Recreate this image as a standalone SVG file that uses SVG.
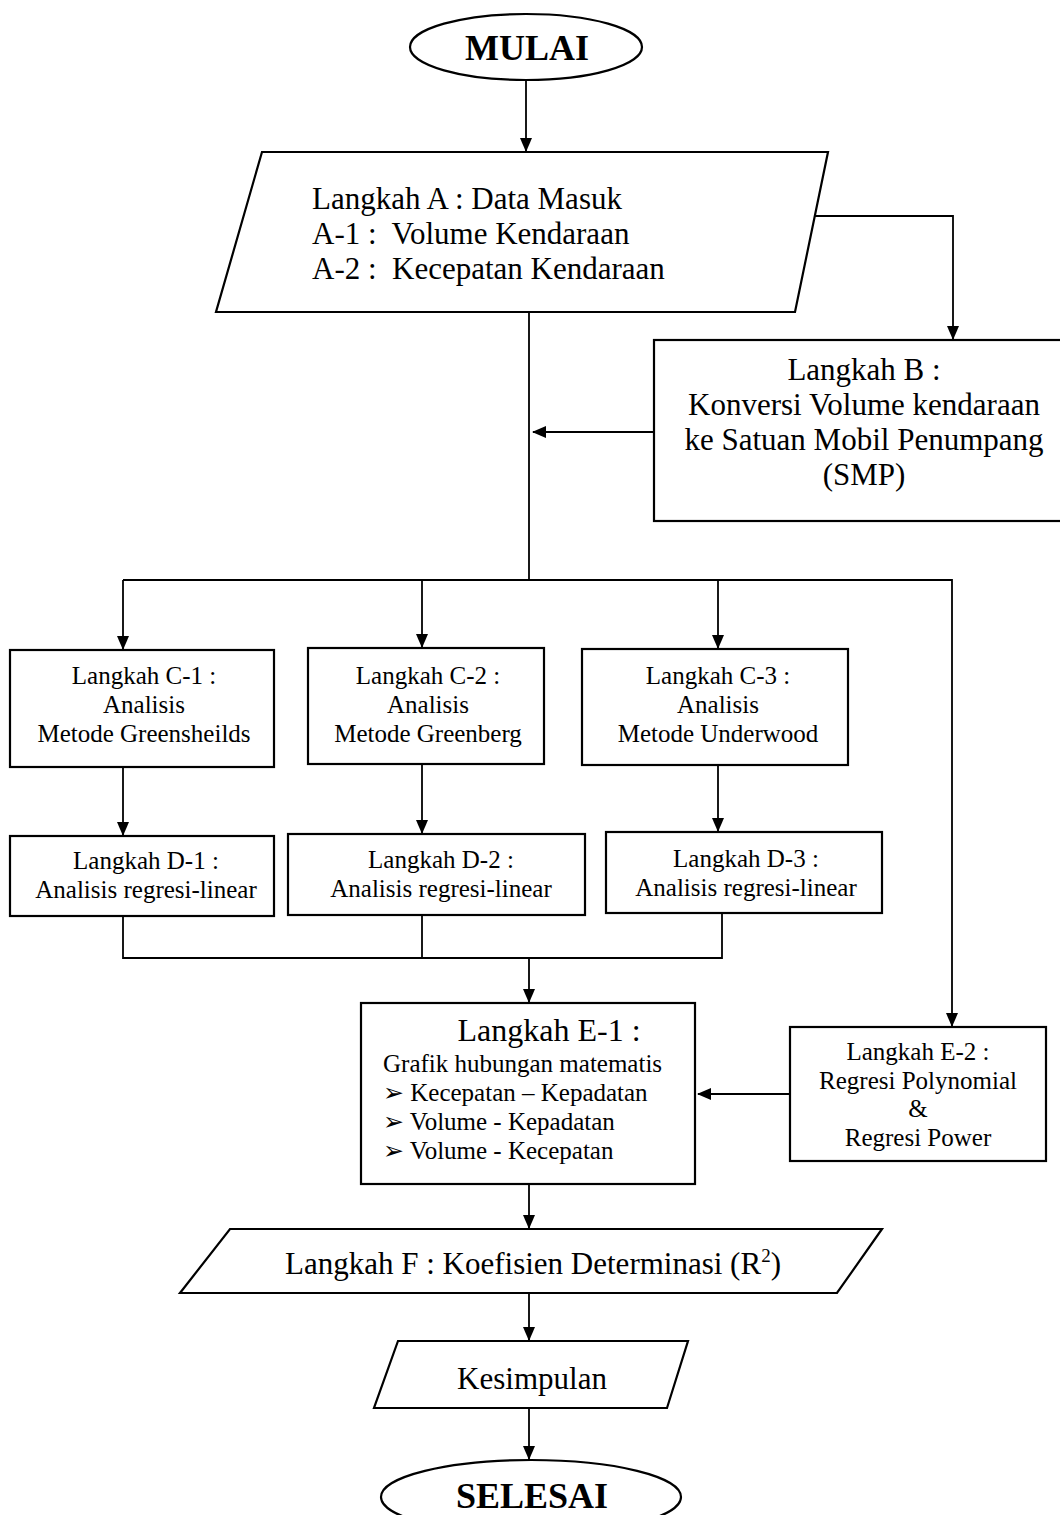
<svg xmlns="http://www.w3.org/2000/svg" width="1060" height="1515" viewBox="0 0 1060 1515">
<style>
.sh{fill:#fff;stroke:#000;stroke-width:2.2}
.cn{fill:none;stroke:#000;stroke-width:1.8}
text{font-family:"Liberation Serif","Times New Roman",serif;fill:#000}
.l{font-size:31px}
.m{font-size:25px}
.b{font-size:36px;font-weight:bold}
.c{text-anchor:middle}
</style>
<defs>
<marker id="ah" markerWidth="14" markerHeight="12" refX="13" refY="6" orient="auto" markerUnits="userSpaceOnUse">
<path d="M0,0 L14,6 L0,12 Z" fill="#000"/>
</marker>
</defs>
<rect width="1060" height="1515" fill="#fff"/>
<g id="connectors">
<line class="cn" x1="526" y1="80" x2="526" y2="151" marker-end="url(#ah)"/>
<polyline class="cn" points="815,216 953,216 953,339" marker-end="url(#ah)"/>
<line class="cn" x1="529" y1="312" x2="529" y2="580"/>
<line class="cn" x1="654" y1="432" x2="533" y2="432" marker-end="url(#ah)"/>
<polyline class="cn" points="123,580 952,580 952,1026" marker-end="url(#ah)"/>
<line class="cn" x1="123" y1="580" x2="123" y2="649" marker-end="url(#ah)"/>
<line class="cn" x1="422" y1="580" x2="422" y2="647" marker-end="url(#ah)"/>
<line class="cn" x1="718" y1="580" x2="718" y2="648" marker-end="url(#ah)"/>
<line class="cn" x1="123" y1="767" x2="123" y2="835" marker-end="url(#ah)"/>
<line class="cn" x1="422" y1="764" x2="422" y2="833" marker-end="url(#ah)"/>
<line class="cn" x1="718" y1="765" x2="718" y2="831" marker-end="url(#ah)"/>
<polyline class="cn" points="123,916 123,958 722,958 722,913"/>
<line class="cn" x1="422" y1="915" x2="422" y2="958"/>
<line class="cn" x1="529" y1="958" x2="529" y2="1002" marker-end="url(#ah)"/>
<line class="cn" x1="790" y1="1094" x2="698" y2="1094" marker-end="url(#ah)"/>
<line class="cn" x1="529" y1="1184" x2="529" y2="1228" marker-end="url(#ah)"/>
<line class="cn" x1="529" y1="1293" x2="529" y2="1340" marker-end="url(#ah)"/>
<line class="cn" x1="529" y1="1408" x2="529" y2="1459" marker-end="url(#ah)"/>
</g>
<g id="mulai">
<ellipse class="sh" cx="526" cy="47" rx="116" ry="33"/>
<text class="b c" x="527" y="60">MULAI</text>
</g>
<g id="langkah-a">
<polygon class="sh" points="262,152 828,152 795,312 216,312"/>
<text class="l" x="312" y="209">Langkah A : Data Masuk</text>
<text class="l" x="312" y="244" xml:space="preserve">A-1 :  Volume Kendaraan</text>
<text class="l" x="312" y="279" xml:space="preserve">A-2 :  Kecepatan Kendaraan</text>
</g>
<g id="langkah-b">
<rect class="sh" x="654" y="340" width="410" height="181"/>
<text class="l c" x="864" y="380">Langkah B :</text>
<text class="l c" x="864" y="415">Konversi Volume kendaraan</text>
<text class="l c" x="864" y="450">ke Satuan Mobil Penumpang</text>
<text class="l c" x="864" y="485">(SMP)</text>
</g>
<g id="langkah-c1">
<rect class="sh" x="10" y="650" width="264" height="117"/>
<text class="m c" x="144" y="684">Langkah C-1 :</text>
<text class="m c" x="144" y="713">Analisis</text>
<text class="m c" x="144" y="742">Metode Greensheilds</text>
</g>
<g id="langkah-c2">
<rect class="sh" x="308" y="648" width="236" height="116"/>
<text class="m c" x="428" y="684">Langkah C-2 :</text>
<text class="m c" x="428" y="713">Analisis</text>
<text class="m c" x="428" y="742">Metode Greenberg</text>
</g>
<g id="langkah-c3">
<rect class="sh" x="582" y="649" width="266" height="116"/>
<text class="m c" x="718" y="684">Langkah C-3 :</text>
<text class="m c" x="718" y="713">Analisis</text>
<text class="m c" x="718" y="742">Metode Underwood</text>
</g>
<g id="langkah-d1">
<rect class="sh" x="10" y="836" width="264" height="80"/>
<text class="m c" x="146" y="869">Langkah D-1 :</text>
<text class="m c" x="146" y="898">Analisis regresi-linear</text>
</g>
<g id="langkah-d2">
<rect class="sh" x="288" y="834" width="297" height="81"/>
<text class="m c" x="441" y="868">Langkah D-2 :</text>
<text class="m c" x="441" y="897">Analisis regresi-linear</text>
</g>
<g id="langkah-d3">
<rect class="sh" x="606" y="832" width="276" height="81"/>
<text class="m c" x="746" y="867">Langkah D-3 :</text>
<text class="m c" x="746" y="896">Analisis regresi-linear</text>
</g>
<g id="langkah-e1">
<rect class="sh" x="361" y="1003" width="334" height="181"/>
<text class="c" x="549" y="1041" font-size="32">Langkah E-1 :</text>
<text class="m" x="383" y="1072">Grafik hubungan matematis</text>
<text class="m" x="383" y="1101">➢ Kecepatan – Kepadatan</text>
<text class="m" x="383" y="1130">➢ Volume - Kepadatan</text>
<text class="m" x="383" y="1159">➢ Volume - Kecepatan</text>
</g>
<g id="langkah-e2">
<rect class="sh" x="790" y="1027" width="256" height="134"/>
<text class="m c" x="918" y="1060">Langkah E-2 :</text>
<text class="m c" x="918" y="1089">Regresi Polynomial</text>
<text class="m c" x="918" y="1117">&amp;</text>
<text class="m c" x="918" y="1146">Regresi Power</text>
</g>
<g id="langkah-f">
<polygon class="sh" points="230,1229 882,1229 837,1293 180,1293"/>
<text class="l c" x="533" y="1274">Langkah F : Koefisien Determinasi (R<tspan font-size="19" dy="-12">2</tspan><tspan dy="12">)</tspan></text>
</g>
<g id="kesimpulan">
<polygon class="sh" points="398,1341 688,1341 667,1408 374,1408"/>
<text class="l c" x="532" y="1389">Kesimpulan</text>
</g>
<g id="selesai">
<ellipse class="sh" cx="531" cy="1497" rx="150" ry="37"/>
<text class="b c" x="532" y="1508">SELESAI</text>
</g>
</svg>
